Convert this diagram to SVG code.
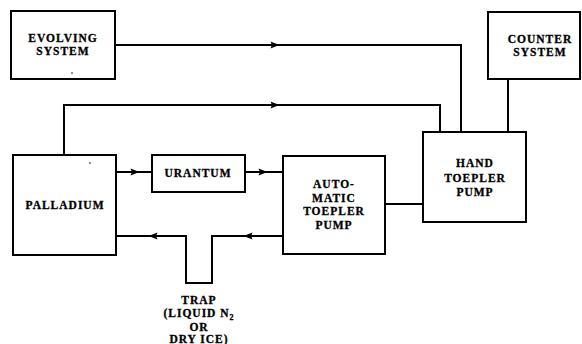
<svg xmlns="http://www.w3.org/2000/svg" width="582" height="344" viewBox="0 0 582 344">
<style>
.box{fill:#fff;stroke:#000;stroke-width:2}
.ln{fill:none;stroke:#000;stroke-width:2}
text{font-family:"Liberation Serif","DejaVu Serif",serif;font-weight:bold;font-size:11.5px;letter-spacing:1px;text-anchor:middle;fill:#000;stroke:#000;stroke-width:0.3}
.sub{font-size:8px}
</style>
<defs>
<path id="ah" d="M-4.5,-3.5 L4.5,0 L-4.5,3.5 Q-2.5,0 -4.5,-3.5 Z" fill="#000"/>
</defs>
<rect width="582" height="344" fill="#fff"/>
<g id="connectors">
<polyline class="ln" points="115,45 461,45 461,132"/>
<polyline class="ln" points="64,155 64,105 440,105 440,132"/>
<line class="ln" x1="508" y1="79" x2="508" y2="132"/>
<line class="ln" x1="385" y1="204" x2="423" y2="204"/>
<line class="ln" x1="116" y1="172" x2="152" y2="172"/>
<line class="ln" x1="245" y1="172" x2="283" y2="172"/>
<polyline class="ln" points="116,236 186,236 186,283 212,283 212,236 283,236"/>
<use href="#ah" transform="translate(275,45)"/>
<use href="#ah" transform="translate(275,105)"/>
<use href="#ah" transform="translate(135,172)"/>
<use href="#ah" transform="translate(263,172)"/>
<use href="#ah" transform="translate(153,236) rotate(180)"/>
<use href="#ah" transform="translate(248,236) rotate(180)"/>
</g>
<g id="evolving">
<rect class="box" x="11" y="11" width="104" height="68"/>
<text x="63" y="42">EVOLVING</text>
<text x="63" y="55">SYSTEM</text>
<circle cx="72" cy="73" r="0.8" fill="#000"/>
</g>
<g id="counter">
<rect class="box" x="488" y="12" width="92" height="67"/>
<text x="540" y="43">COUNTER</text>
<text x="540" y="56">SYSTEM</text>
</g>
<g id="palladium">
<rect class="box" x="13" y="155" width="103" height="100"/>
<text x="65" y="209">PALLADIUM</text>
<circle cx="90" cy="163" r="0.8" fill="#000"/>
</g>
<g id="uranium">
<rect class="box" x="152" y="155" width="93" height="37"/>
<text x="198" y="177">URANTUM</text>
</g>
<g id="auto">
<rect class="box" x="283" y="156" width="102" height="98"/>
<text x="334" y="188">AUTO-</text>
<text x="334" y="202">MATIC</text>
<text x="334" y="215">TOEPLER</text>
<text x="334" y="229">PUMP</text>
</g>
<g id="hand">
<rect class="box" x="423" y="132" width="103" height="90"/>
<text x="475" y="167">HAND</text>
<text x="475" y="182">TOEPLER</text>
<text x="475" y="196">PUMP</text>
</g>
<g id="trap">
<text x="199" y="304">TRAP</text>
<text x="199" y="317">(LIQUID N<tspan class="sub" dy="3">2</tspan></text>
<text x="199" y="331">OR</text>
<text x="199" y="343">DRY ICE)</text>
</g>
</svg>
